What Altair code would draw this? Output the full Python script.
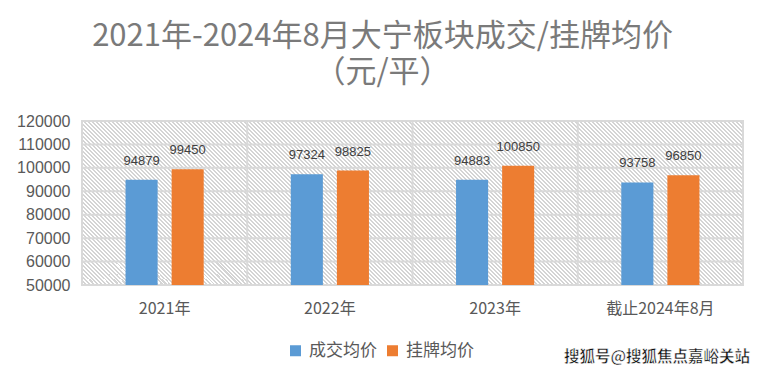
import altair as alt
import pandas as pd

categories = ["2021年", "2022年", "2023年", "截止2024年8月"]
series = ["成交均价", "挂牌均价"]
deal_price = [94879, 97324, 94883, 93758]
list_price = [99450, 98825, 100850, 96850]
y_ticks = [50000, 60000, 70000, 80000, 90000, 100000, 110000, 120000]
title_lines = ["2021年-2024年8月大宁板块成交/挂牌均价", "（元/平）"]
watermark = ["搜狐号@搜狐焦点嘉峪关站"]

W, H = 661, 164
FONT = "Noto Sans CJK SC"
GRID = "#D9D9D9"
AXIS_TXT = "#595959"

rows = []
for c, d, l in zip(categories, deal_price, list_price):
    rows.append({"cat": c, "series": series[0], "value": d})
    rows.append({"cat": c, "series": series[1], "value": l})
df = pd.DataFrame(rows)

# background cells: one per category band and grid interval
cells = pd.DataFrame(
    [{"cat": c, "value": lo, "value2": hi}
     for c in categories for lo, hi in zip(y_ticks[:-1], y_ticks[1:])]
)

# diagonal hatch drawn as a striped linear gradient inside each cell
cw = W / len(categories)
ch = H / (len(y_ticks) - 1)
gray = "#D4D4D4"
period, stripe = 4.0, 2.0
span = cw + ch
stops = []
k = 0
while k * period < span:
    t0 = k * period / span
    t1 = min((k * period + stripe) / span, 1.0)
    t2 = min((k + 1) * period / span, 1.0)
    stops += [
        {"offset": t0, "color": gray},
        {"offset": t1, "color": gray},
        {"offset": t1, "color": "#FFFFFF"},
        {"offset": t2, "color": "#FFFFFF"},
    ]
    k += 1
r = ch / cw
s = (1 + r) / (1 + r * r)
hatch = {"gradient": "linear", "x1": 0, "y1": 1, "x2": s, "y2": 1 - s * r, "stops": stops}

xscale = alt.Scale(domain=categories, paddingInner=0, paddingOuter=0)
yscale = alt.Scale(domain=[50000, 120000], nice=False, zero=False)
xaxis = alt.Axis(
    title=None, labelAngle=0, domain=False, ticks=False, grid=False,
    labelFontSize=16, labelColor=AXIS_TXT, labelFont=FONT, labelPadding=15,
)
yaxis = alt.Axis(
    title=None, values=y_ticks, format="d", domain=False, ticks=False, grid=False,
    labelFontSize=16, labelColor=AXIS_TXT, labelFont="Liberation Sans",
    labelPadding=12,
)
X = alt.X("cat:N", scale=xscale, sort=categories, axis=xaxis)
Y = alt.Y("value:Q", scale=yscale, axis=yaxis)

bg = alt.Chart(cells).mark_rect(fill=hatch, strokeWidth=0).encode(
    x=X, y=Y, y2="value2:Q"
)

ygrid = alt.Chart(pd.DataFrame({"value": y_ticks})).mark_rule(
    color=GRID, strokeWidth=2
).encode(y=Y)

xgrid = alt.Chart(pd.DataFrame({"cat": categories})).mark_rule(
    color=GRID, strokeWidth=2
).encode(x=alt.X("cat:N", scale=xscale, sort=categories, axis=xaxis, bandPosition=0))

frame = alt.Chart(pd.DataFrame({"a": [0]})).mark_rect(
    fill=None, stroke=GRID, strokeWidth=2
).encode(x=alt.value(0), x2=alt.value(W), y=alt.value(0), y2=alt.value(H))

off_scale = alt.Scale(domain=series, paddingInner=0.304, paddingOuter=0.945)

bars = alt.Chart(df).mark_bar().encode(
    x=X,
    xOffset=alt.XOffset("series:N", scale=off_scale),
    y=Y,
    y2=alt.datum(50000),
    color=alt.Color(
        "series:N",
        scale=alt.Scale(domain=series, range=["#5B9BD5", "#ED7D31"]),
        legend=alt.Legend(
            title=None, orient="none", legendX=205, legendY=221, direction="horizontal",
            symbolType="square", symbolSize=121, symbolStrokeWidth=0,
            labelFontSize=17, labelFont=FONT, labelColor=AXIS_TXT,
            labelOffset=5, columnPadding=7, padding=0,
        ),
    ),
)

labels = alt.Chart(df).mark_text(
    baseline="alphabetic", dy=-15, fontSize=13, font="Liberation Sans", color="#404040"
).encode(
    x=X,
    xOffset=alt.XOffset("series:N", scale=off_scale),
    y=Y,
    text=alt.Text("value:Q", format="d"),
)

wm = alt.Chart(pd.DataFrame({"t": watermark})).mark_text(
    align="right", baseline="alphabetic", fontSize=15.5, fontWeight="bold", font=FONT,
    color="#111111", stroke="#FFFFFF", strokeWidth=0.5,
).encode(x=alt.value(668), y=alt.value(241), text="t:N")

chart = alt.layer(bg, ygrid, xgrid, frame, bars, labels, wm).properties(
    width=W,
    height=H,
    autosize=alt.AutoSizeParams(type="none"),
    padding={"left": 74, "top": 113, "right": 10, "bottom": 83},
    title=alt.TitleParams(
        text=title_lines, fontSize=31, font=FONT, color="#7A7A7A", fontWeight="normal",
        lineHeight=36, anchor="middle", dx=-30, offset=24,
    ),
).configure_view(stroke=None)

chart.save("out.html", embed_options={"renderer": "svg", "actions": False})
